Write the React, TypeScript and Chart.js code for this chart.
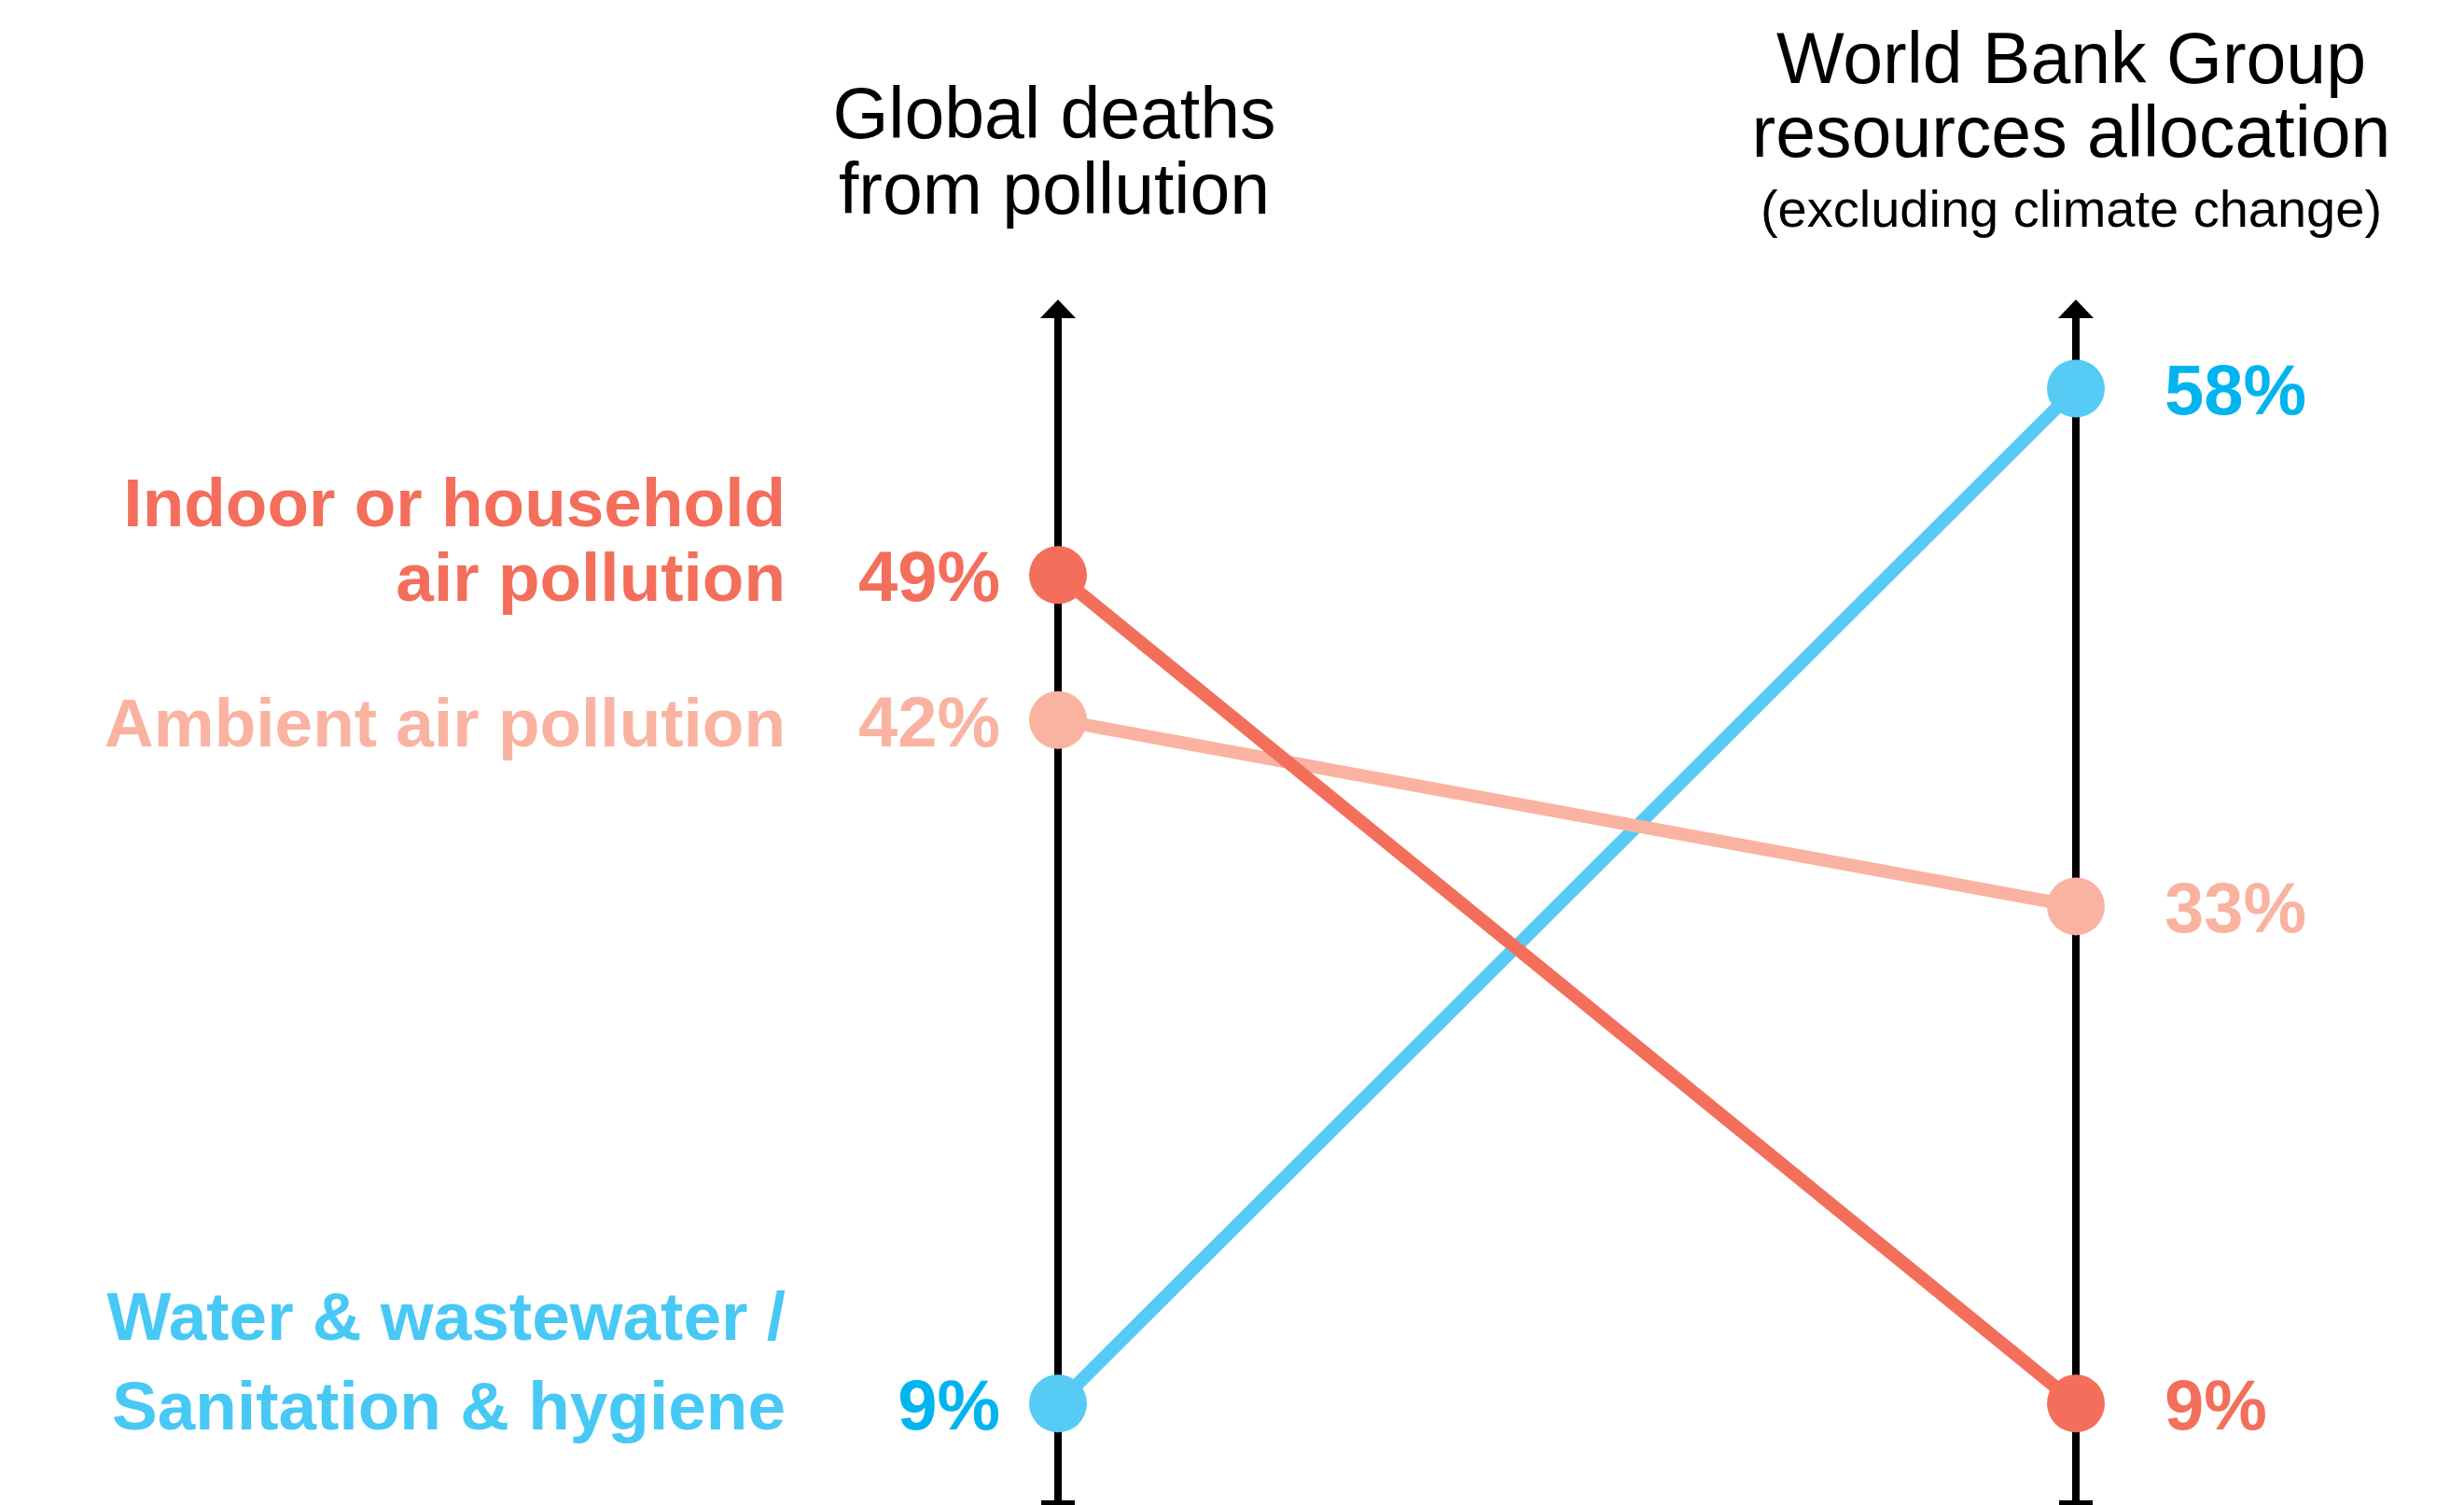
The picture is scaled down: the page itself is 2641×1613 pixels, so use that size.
import React, { useEffect, useRef } from 'react';
import { Chart, registerables } from 'chart.js';

Chart.register(...registerables);

// ---- data ----
const columns = ['Global deaths from pollution', 'World Bank Group resources allocation'];
const leftTitleLines = ['Global deaths', 'from pollution'];
const rightTitleLines = ['World Bank Group', 'resources allocation'];
const rightSubtitle = '(excluding climate change)';

const seriesLabels = [
  ['Indoor or household', 'air pollution'],
  ['Ambient air pollution'],
  ['Water & wastewater /', 'Sanitation & hygiene'],
];
const indoorValues = [49, 9];
const ambientValues = [42, 33];
const waterValues = [9, 58];
const seriesValues = [indoorValues, ambientValues, waterValues];

// ---- styles ----
const lineColors = ['#F36F5B', '#F9B3A0', '#55CBF5'];
const labelColors = ['#F36F5B', '#F9B3A0', '#48C8F5'];
const valueColors = ['#F36F5B', '#F9B3A0', '#00B4EF'];
const labelLineGaps = [80, 80, 96];
const FONT = "'Liberation Sans', Arial, Helvetica, sans-serif";

const W = 2641;
const H = 1613;

const slopePlugin = {
  id: 'slopeDecor',
  beforeDatasetsDraw(chart: any) {
    const { ctx, chartArea, scales } = chart;
    const xs = [scales.x.getPixelForValue(0), scales.x.getPixelForValue(1)];
    ctx.save();
    ctx.fillStyle = '#000';
    for (const x of xs) {
      const top = chartArea.top;
      ctx.fillRect(x - 4, top + 19, 8, chartArea.bottom - top - 19);
      ctx.beginPath();
      ctx.moveTo(x, top);
      ctx.lineTo(x - 19, top + 20);
      ctx.lineTo(x + 19, top + 20);
      ctx.closePath();
      ctx.fill();
      ctx.fillRect(x - 18, chartArea.bottom - 5, 36, 8);
    }
    ctx.restore();
  },
  afterDatasetsDraw(chart: any) {
    const { ctx, chartArea, scales } = chart;
    const x0 = scales.x.getPixelForValue(0);
    const x1 = scales.x.getPixelForValue(1);
    const top = chartArea.top;
    ctx.save();
    ctx.textBaseline = 'alphabetic';

    // column titles
    ctx.fillStyle = '#000';
    ctx.textAlign = 'center';
    ctx.font = `400 77px ${FONT}`;
    ctx.fillText(leftTitleLines[0], x0 - 4, top - 173);
    ctx.fillText(leftTitleLines[1], x0 - 4, top - 92);
    ctx.fillText(rightTitleLines[0], x1 - 5, top - 232);
    ctx.fillText(rightTitleLines[1], x1 - 5, top - 153);
    ctx.font = `400 56px ${FONT}`;
    ctx.fillText(rightSubtitle, x1 - 5, top - 78);

    // series labels and values
    seriesValues.forEach((vals, i) => {
      const yL = scales.y.getPixelForValue(vals[0]);
      const yR = scales.y.getPixelForValue(vals[1]);
      const baseL = yL + 28;
      const baseR = yR + 28;

      ctx.font = `700 76px ${FONT}`;
      ctx.fillStyle = valueColors[i];
      ctx.textAlign = 'right';
      ctx.fillText(`${vals[0]}%`, x0 - 62, baseL);
      ctx.textAlign = 'left';
      ctx.fillText(`${vals[1]}%`, x1 + 95, baseR);

      ctx.font = `700 73px ${FONT}`;
      ctx.fillStyle = labelColors[i];
      ctx.textAlign = 'right';
      const lines = seriesLabels[i];
      lines.forEach((ln, k) => {
        ctx.fillText(ln, x0 - 292, baseL - (lines.length - 1 - k) * labelLineGaps[i]);
      });
    });
    ctx.restore();
  },
};

export default function App() {
  const ref = useRef<HTMLCanvasElement | null>(null);

  useEffect(() => {
    document.body.style.margin = '0';
    const canvas = ref.current;
    if (!canvas) return;
    const chart = new Chart(canvas, {
      type: 'line',
      data: {
        labels: columns,
        datasets: seriesValues.map((vals, i) => ({
          label: seriesLabels[i].join(' '),
          data: vals,
          borderColor: lineColors[i],
          backgroundColor: lineColors[i],
          pointBackgroundColor: lineColors[i],
          pointBorderWidth: 0,
          pointRadius: 31,
          pointHoverRadius: 31,
          borderWidth: 14,
          tension: 0,
          clip: false as any,
          order: i,
        })),
      },
      options: {
        responsive: false,
        animation: false,
        devicePixelRatio: 1,
        events: [],
        layout: { autoPadding: false, padding: { left: 1134, right: W - 2225, top: 321, bottom: 0 } },
        plugins: { legend: { display: false }, tooltip: { enabled: false }, title: { display: false } },
        scales: {
          x: { type: 'category', offset: false, display: false },
          y: { type: 'linear', min: 4.1, max: 62.3, display: false },
        },
      },
      plugins: [slopePlugin],
    });
    return () => chart.destroy();
  }, []);

  return (
    <div style={{ position: 'fixed', left: 0, top: 0, width: W, height: H, background: '#fff' }}>
      <canvas ref={ref} width={W} height={H} style={{ width: W, height: H, display: 'block' }} />
    </div>
  );
}
